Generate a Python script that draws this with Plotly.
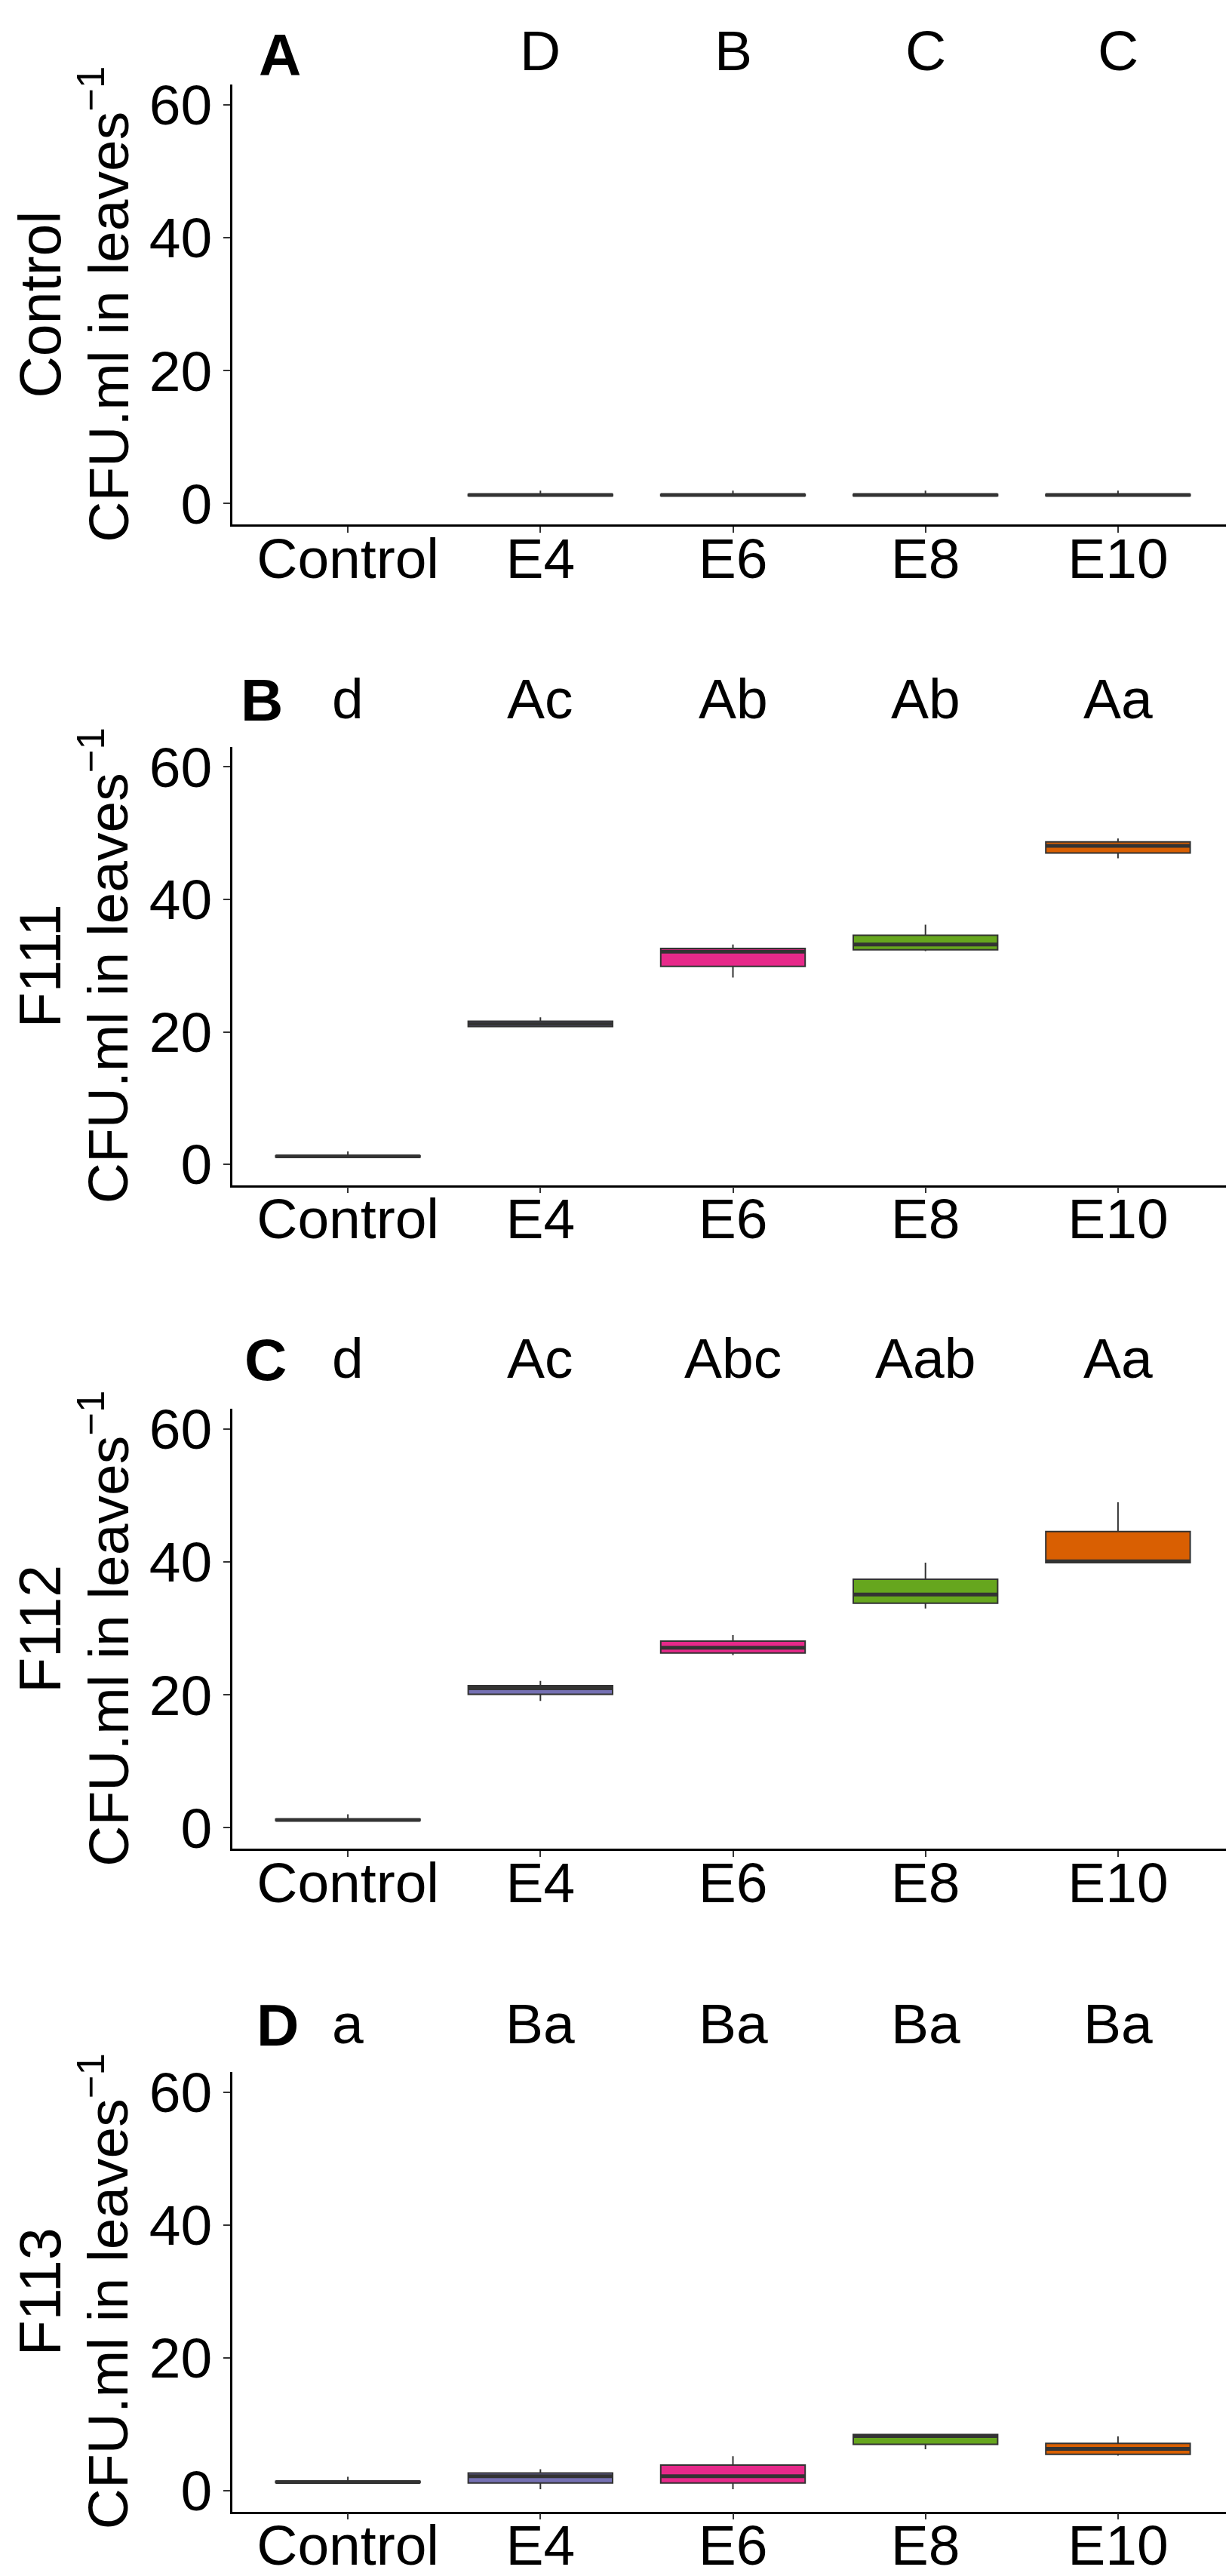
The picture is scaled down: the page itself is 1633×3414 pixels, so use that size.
import plotly.graph_objects as go
from plotly.subplots import make_subplots

# categories on the x axis
categories = ["Control", "E4", "E6", "E8", "E10"]
positions = [0, 1, 2, 3, 4]
box_colors = ["#1B9E77", "#7570B3", "#E7298A", "#66A61E", "#D95F02"]

panel_tags = ["A", "B", "C", "D"]
row_titles = ["Control", "F111", "F112", "F113"]

# significance letters above each box
letters_a = ["", "D", "B", "C", "C"]
letters_b = ["d", "Ac", "Ab", "Ab", "Aa"]
letters_c = ["d", "Ac", "Abc", "Aab", "Aa"]
letters_d = ["a", "Ba", "Ba", "Ba", "Ba"]

# box statistics (None = no box drawn)
# panel A - Control
q1_a = [None, 1.2, 1.2, 1.2, 1.2]
med_a = [None, 1.3, 1.3, 1.3, 1.3]
q3_a = [None, 1.4, 1.4, 1.4, 1.4]
lo_a = [None, 1.2, 1.2, 1.2, 1.2]
hi_a = [None, 1.95, 1.95, 1.95, 1.95]

# panel B - F111
q1_b = [1.1, 20.8, 29.9, 32.4, 47.0]
med_b = [1.2, 21.2, 32.1, 33.2, 48.1]
q3_b = [1.3, 21.6, 32.6, 34.6, 48.7]
lo_b = [1.1, 20.8, 28.2, 32.2, 46.2]
hi_b = [1.95, 22.2, 33.2, 36.2, 49.2]

# panel C - F112
q1_c = [1.1, 20.1, 26.3, 33.8, 39.9]
med_c = [1.2, 21.0, 27.1, 35.1, 40.1]
q3_c = [1.3, 21.4, 28.1, 37.4, 44.6]
lo_c = [1.1, 19.1, 26.0, 33.0, 39.9]
hi_c = [2.05, 22.1, 29.0, 39.9, 49.0]

# panel D - F113
q1_d = [1.2, 1.16, 1.16, 6.98, 5.48]
med_d = [1.3, 2.17, 2.17, 8.22, 6.3]
q3_d = [1.4, 2.67, 3.86, 8.44, 7.13]
lo_d = [1.2, 0.22, 0.22, 6.23, 5.26]
hi_d = [2.08, 3.23, 5.18, 8.44, 8.18]

panels = [
    (q1_a, med_a, q3_a, lo_a, hi_a, letters_a),
    (q1_b, med_b, q3_b, lo_b, hi_b, letters_b),
    (q1_c, med_c, q3_c, lo_c, hi_c, letters_c),
    (q1_d, med_d, q3_d, lo_d, hi_d, letters_d),
]

W, H = 1633, 3414
FONT = "Liberation Sans, Arial, sans-serif"
BOX_W = 0.75

# plot area pixel extents (top, bottom) of each panel
panel_px = [(90, 678), (975, 1561), (1860, 2448), (2746, 3334)]
# top edge of the letter row text boxes
letter_top_px = [0, 866, 1748, 2637]
tag_top_px = [4, 866, 1748, 2637]
tag_x = [363, 339, 344, 360]
x_left, x_right = 300, 1627

fig = make_subplots(rows=4, cols=1)
annotations = []

for r, (q1, med, q3, lo, hi, letters) in enumerate(panels, start=1):
    for i, pos in enumerate(positions):
        if q1[i] is None:
            continue
        fig.add_trace(go.Box(
            x=[pos], q1=[q1[i]], median=[med[i]], q3=[q3[i]],
            lowerfence=[lo[i]], upperfence=[hi[i]],
            fillcolor=box_colors[i],
            line=dict(color="#333333", width=2),
            whiskerwidth=0, width=BOX_W, boxpoints=False,
            showlegend=False, hoverinfo="skip"
        ), row=r, col=1)
        # thicker median line, as in ggplot
        fig.add_trace(go.Scatter(
            x=[pos - BOX_W / 2, pos + BOX_W / 2], y=[med[i], med[i]],
            mode="lines", line=dict(color="#333333", width=5),
            showlegend=False, hoverinfo="skip"
        ), row=r, col=1)

    top, bot = panel_px[r - 1]
    fig.update_yaxes(
        domain=[1 - bot / H, 1 - top / H],
        range=[-3.15, 63.05], tickvals=[0, 20, 40, 60],
        showline=True, linecolor="black", linewidth=2.5,
        ticks="outside", ticklen=9, tickwidth=2, tickcolor="#333333",
        showgrid=False, zeroline=False,
        tickfont=dict(size=75, color="black", family=FONT),
        row=r, col=1
    )
    fig.update_xaxes(
        domain=[x_left / W, x_right / W],
        tickmode="array", tickvals=positions, ticktext=categories,
        range=[-0.6, 4.6],
        showline=True, linecolor="black", linewidth=2.5,
        ticks="outside", ticklen=8, tickwidth=2, tickcolor="#333333",
        showgrid=False, zeroline=False, ticklabelstandoff=-30,
        tickfont=dict(size=75, color="black", family=FONT),
        row=r, col=1
    )

    mid = 1 - (top + bot) / 2 / H
    xref = "x" if r == 1 else f"x{r}"
    # significance letters
    for i, pos in enumerate(positions):
        if letters[i]:
            annotations.append(dict(
                x=pos, y=1 - letter_top_px[r - 1] / H, xref=xref, yref="paper",
                text=letters[i], showarrow=False, xanchor="center", yanchor="top",
                font=dict(size=75, color="black", family=FONT)))
    # panel tag
    annotations.append(dict(
        x=tag_x[r - 1] / W, y=1 - tag_top_px[r - 1] / H, xref="paper", yref="paper",
        text=f"<b>{panel_tags[r - 1]}</b>", showarrow=False,
        xanchor="center", yanchor="top",
        font=dict(size=78, color="black", family=FONT)))
    # y axis title
    annotations.append(dict(
        x=130 / W, y=mid, xref="paper", yref="paper",
        text="CFU.ml in leaves<sup>−1</sup>", textangle=-90, showarrow=False,
        xanchor="center", yanchor="middle",
        font=dict(size=75, color="black", family=FONT)))
    # row title
    annotations.append(dict(
        x=0, y=mid, xref="paper", yref="paper",
        text=row_titles[r - 1], textangle=-90, showarrow=False,
        xanchor="left", yanchor="middle",
        font=dict(size=77, color="black", family=FONT)))

fig.update_layout(
    width=W, height=H,
    margin=dict(l=0, r=0, t=0, b=0),
    paper_bgcolor="white", plot_bgcolor="white",
    annotations=annotations,
    showlegend=False
)

fig.write_html("out.html")
